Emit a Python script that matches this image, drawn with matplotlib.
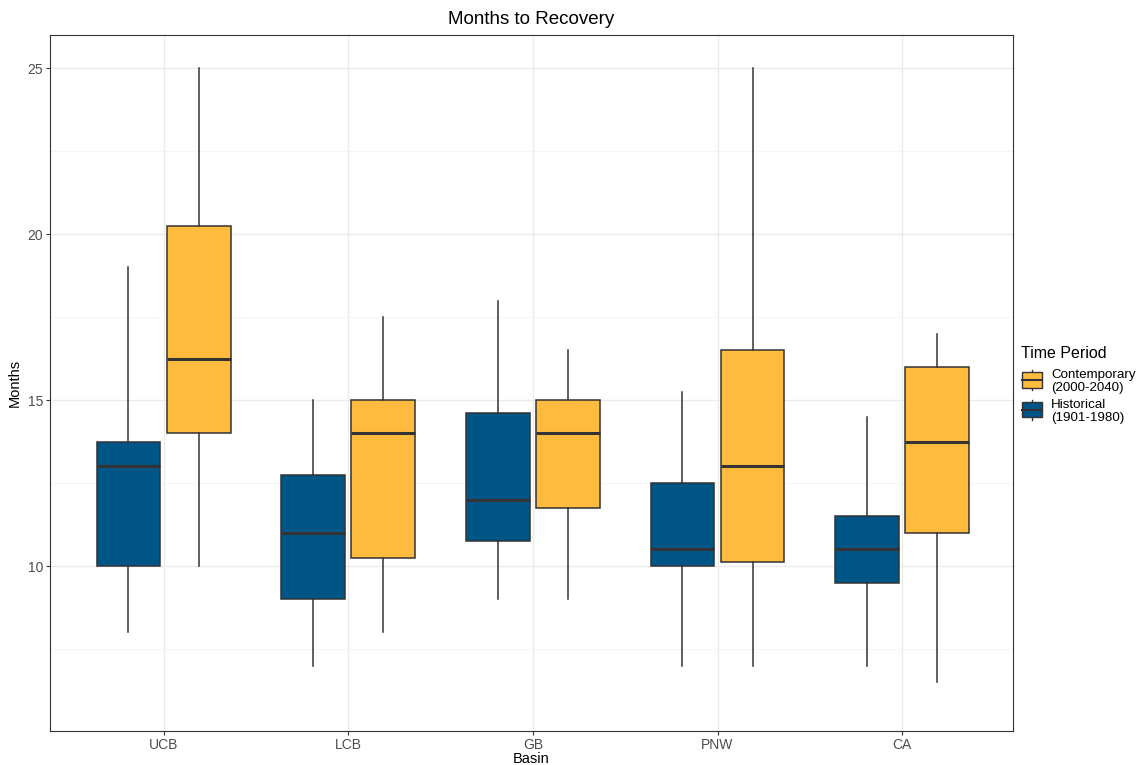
import numpy as np
import matplotlib.pyplot as plt
import matplotlib.patches as patches
from matplotlib.lines import Line2D
from matplotlib.ticker import MultipleLocator

plt.rcParams["font.family"] = ["Liberation Sans", "DejaVu Sans"]

basins = ["UCB", "LCB", "GB", "PNW", "CA"]

# stats per basin: whisker low, q1, median, q3, whisker high
hist_lo = [8, 7, 9, 7, 7]
hist_q1 = [10, 9, 10.75, 10, 9.5]
hist_med = [13, 11, 12, 10.5, 10.5]
hist_q3 = [13.75, 12.75, 14.625, 12.5, 11.5]
hist_hi = [19, 15, 18, 15.25, 14.5]

cont_lo = [10, 8, 9, 7, 6.5]
cont_q1 = [14, 10.25, 11.75, 10.125, 11]
cont_med = [16.25, 14, 14, 13, 13.75]
cont_q3 = [20.25, 15, 15, 16.5, 16]
cont_hi = [25, 17.5, 16.5, 25, 17]

legend_labels = ["Contemporary\n(2000-2040)", "Historical\n(1901-1980)"]

blue = "#005587"
yellow = "#FFBB3D"
edge = "#333333"

W, H = 1137, 765


def make_stats(lo, q1, med, q3, hi):
    return [dict(whislo=a, q1=b, med=c, q3=d, whishi=e, fliers=[])
            for a, b, c, d, e in zip(lo, q1, med, q3, hi)]


fig = plt.figure(figsize=(W / 100, H / 100), dpi=100)
ax = fig.add_axes([50 / W, 34 / H, 963 / W, 696 / H])

x = np.arange(1, len(basins) + 1)
offset = 0.19
width = 0.345

for stats, pos, color in [
    (make_stats(hist_lo, hist_q1, hist_med, hist_q3, hist_hi), x - offset, blue),
    (make_stats(cont_lo, cont_q1, cont_med, cont_q3, cont_hi), x + offset, yellow),
]:
    ax.bxp(stats, positions=pos, widths=width, patch_artist=True,
           showcaps=False, showfliers=False,
           boxprops=dict(facecolor=color, edgecolor=edge, linewidth=1.1),
           medianprops=dict(color=edge, linewidth=2.2),
           whiskerprops=dict(color=edge, linewidth=1.1),
           zorder=3)

ax.set_xlim(0.385, 5.6)
ax.set_ylim(5.03, 26.0)
ax.set_xticks(x)
ax.set_xticklabels(basins)
ax.yaxis.set_major_locator(MultipleLocator(5))
ax.yaxis.set_minor_locator(MultipleLocator(2.5))
ax.grid(True, which="major", color="#EBEBEB", linewidth=1.0, zorder=0)
ax.grid(True, which="minor", axis="y", color="#F4F4F4", linewidth=0.6, zorder=0)
ax.set_axisbelow(True)
ax.tick_params(axis="both", which="major", length=3, width=0.8, color="#333333",
               labelsize=10, labelcolor="#4D4D4D", pad=2)
ax.tick_params(axis="y", which="minor", length=0)
for s in ax.spines.values():
    s.set_color("#333333")
    s.set_linewidth(0.8)

ax.set_xlabel("Basin", fontsize=10.5, labelpad=0)
ax.set_ylabel("Months", fontsize=10.5, labelpad=4)
ax.set_title("Months to Recovery", fontsize=13.5, pad=8)

# legend drawn by hand so the keys look like ggplot's boxplot keys
fig.text(1021 / W, 1 - 353 / H, "Time Period", fontsize=11.5, va="center", ha="left")
for i, (lab, color) in enumerate(zip(legend_labels, [yellow, blue])):
    cy = 380 + 30 * i
    kx0, kx1 = 1022, 1042
    fig.add_artist(Line2D([(kx0 + kx1) / 2 / W] * 2, [1 - (cy - 10) / H, 1 - (cy + 10) / H],
                          color=edge, lw=1.0, transform=fig.transFigure, zorder=1))
    fig.add_artist(patches.Rectangle((kx0 / W, 1 - (cy + 7.5) / H), (kx1 - kx0) / W, 15 / H,
                                     facecolor=color, edgecolor=edge, lw=1.0,
                                     transform=fig.transFigure, zorder=2))
    fig.add_artist(Line2D([kx0 / W, kx1 / W], [1 - cy / H] * 2, color=edge, lw=1.5,
                          transform=fig.transFigure, zorder=3))
    fig.text(1051 / W, 1 - (cy + 1.5) / H, lab, fontsize=9.6, va="center", ha="left",
             linespacing=1.08)

fig.savefig("out.png", dpi=100)
